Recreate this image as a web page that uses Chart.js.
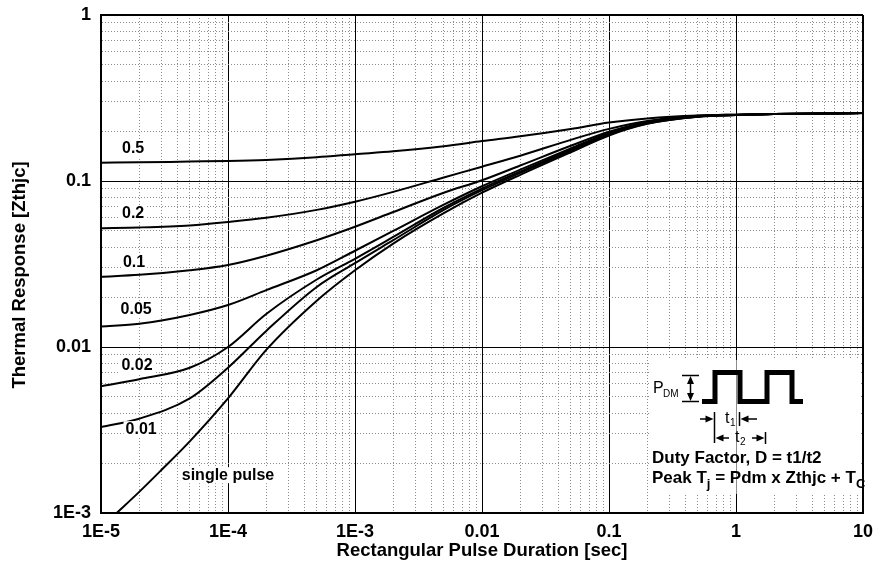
<!DOCTYPE html>
<html>
<head>
<meta charset="utf-8">
<script src="https://cdn.jsdelivr.net/npm/chart.js@4.4.1/dist/chart.umd.min.js"></script>
<style>
  html, body { margin: 0; padding: 0; background: #fff; }
</style>
</head>
<body>
<canvas id="zthChart" width="878" height="568"></canvas>
<script>
// pulse durations [sec] shared by the duty-factor curves
const pulseTimes = [1e-5, 2e-5, 5e-5, 1e-4, 2e-4, 5e-4, 1e-3, 2e-3, 5e-3, 0.01, 0.02, 0.05, 0.1, 0.2, 0.5, 1, 2, 5, 10];

// Zthjc, one array per duty factor
const duty50 = [0.129, 0.1295, 0.131, 0.132, 0.134, 0.139, 0.145, 0.151, 0.162, 0.174, 0.186, 0.206, 0.225, 0.238, 0.248, 0.251, 0.253, 0.255, 0.257];
const duty20 = [0.052, 0.0525, 0.054, 0.0566, 0.060, 0.067, 0.075, 0.086, 0.105, 0.122, 0.142, 0.177, 0.206, 0.230, 0.247, 0.251, 0.253, 0.255, 0.257];
const duty10 = [0.0265, 0.0272, 0.029, 0.0312, 0.0355, 0.044, 0.053, 0.065, 0.085, 0.101, 0.124, 0.163, 0.198, 0.227, 0.246, 0.250, 0.253, 0.255, 0.257];
const duty05 = [0.0133, 0.0138, 0.0156, 0.0179, 0.022, 0.029, 0.038, 0.050, 0.072, 0.093, 0.117, 0.157, 0.195, 0.225, 0.245, 0.250, 0.253, 0.255, 0.257];
const duty02 = [0.0058, 0.0064, 0.0075, 0.0100, 0.0158, 0.0255, 0.034, 0.046, 0.069, 0.090, 0.114, 0.154, 0.193, 0.224, 0.245, 0.250, 0.253, 0.255, 0.257];
const duty01 = [0.0033, 0.0037, 0.0049, 0.0075, 0.0125, 0.023, 0.032, 0.044, 0.067, 0.088, 0.112, 0.152, 0.190, 0.222, 0.244, 0.250, 0.253, 0.255, 0.257];

// single pulse starts where it leaves the bottom of the plot
const singleTimes = [1.33e-5, 2e-5, 3e-5, 5e-5, 1e-4, 2e-4, 5e-4, 1e-3, 2e-3, 5e-3, 0.01, 0.02, 0.05, 0.1, 0.2, 0.5, 1, 2, 5, 10];
const singlePulse = [0.001, 0.00134, 0.00182, 0.0027, 0.0049, 0.0096, 0.019, 0.029, 0.042, 0.064, 0.085, 0.109, 0.149, 0.188, 0.221, 0.244, 0.250, 0.253, 0.255, 0.257];

const xTickLabels = ['1E-5', '1E-4', '1E-3', '0.01', '0.1', '1', '10'];
const yTickLabels = ['1E-3', '0.01', '0.1', '1'];
const xTitle = 'Rectangular Pulse Duration [sec]';
const yTitle = 'Thermal Response [Zthjc]';

// curve names and where they sit (data units)
const curveNames = ['0.5', '0.2', '0.1', '0.05', '0.02', '0.01', 'single pulse'];
const nameTimes = [1.79e-5, 1.79e-5, 1.82e-5, 1.89e-5, 1.92e-5, 2.07e-5, 1e-4];
const nameLevels = [0.156, 0.0633, 0.0321, 0.0167, 0.0077, 0.0032, 0.00169];

const FONT = "'Liberation Sans', Arial, sans-serif";
Chart.defaults.font.family = FONT;
Chart.defaults.color = '#000';

function isDecade(v) {
    const l = Math.log10(v);
    return Math.abs(l - Math.round(l)) < 1e-6;
}

function logTicks(lo, hi) {
    const ticks = [];
    for (let e = lo; e < hi; e++) {
        for (let m = 1; m <= 9; m++) ticks.push({ value: m * Math.pow(10, e) });
    }
    ticks.push({ value: Math.pow(10, hi) });
    return ticks;
}

function curve(times, values) {
    return {
        data: times.map((t, i) => ({ x: t, y: values[i] })),
        borderColor: '#000',
        borderWidth: 2,
        pointRadius: 0,
        cubicInterpolationMode: 'monotone',
        fill: false
    };
}

function arrowHead(ctx, x, y, dir) {
    // s: 1 points right/down, -1 points left/up; h: horizontal
    ctx.beginPath();
    ctx.moveTo(x, y);
    if (dir.h) {
        ctx.lineTo(x - dir.s * 8, y - 3.5);
        ctx.lineTo(x - dir.s * 8, y + 3.5);
    } else {
        ctx.lineTo(x - 3.5, y - dir.s * 8);
        ctx.lineTo(x + 3.5, y - dir.s * 8);
    }
    ctx.closePath();
    ctx.fill();
}

function line(ctx, x1, y1, x2, y2) {
    ctx.beginPath();
    ctx.moveTo(x1, y1);
    ctx.lineTo(x2, y2);
    ctx.stroke();
}

const annotations = {
    id: 'annotations',
    afterDatasetsDraw(chart) {
        const { ctx, chartArea: ca, scales: { x, y } } = chart;
        ctx.save();

        // y axis title, sitting a little below the middle as in the original
        ctx.font = `bold 18.5px ${FONT}`;
        ctx.fillStyle = '#000';
        ctx.textAlign = 'center';
        ctx.textBaseline = 'middle';
        ctx.save();
        ctx.translate(19.5, (ca.top + ca.bottom) / 2 + 11);
        ctx.rotate(-Math.PI / 2);
        ctx.fillText(yTitle, 0, 0);
        ctx.restore();

        // curve names on white patches
        ctx.font = `bold 16px ${FONT}`;
        curveNames.forEach((t, i) => {
            const px = x.getPixelForValue(nameTimes[i]);
            const py = y.getPixelForValue(nameLevels[i]);
            const w = ctx.measureText(t).width;
            ctx.fillStyle = '#fff';
            ctx.fillRect(px - w / 2 - 2, py - 8, w + 4, 16);
            ctx.fillStyle = '#000';
            ctx.fillText(t, px, py);
        });

        // inset: pulse sketch and formulas
        const ox = ca.right - 211, oy = ca.bottom - 153;
        ctx.fillStyle = '#fff';
        ctx.fillRect(ox - 2, oy, ca.right - ox - 2, 134);
        const g1 = Math.round(x.getPixelForValue(1)) + 0.5;
        ctx.strokeStyle = '#8c8c8c';
        ctx.lineWidth = 1;
        line(ctx, g1, oy, g1, oy + 134);

        ctx.fillStyle = '#000';
        ctx.strokeStyle = '#000';
        ctx.textAlign = 'left';
        ctx.textBaseline = 'alphabetic';
        ctx.font = `16px ${FONT}`;
        ctx.fillText('P', ox + 1, oy + 33);
        ctx.font = `10px ${FONT}`;
        ctx.fillText('DM', ox + 11, oy + 37);

        // P_DM height marker
        ctx.lineWidth = 1.5;
        line(ctx, ox + 30, oy + 15.5, ox + 47, oy + 15.5);
        line(ctx, ox + 30, oy + 41.5, ox + 47, oy + 41.5);
        line(ctx, ox + 38.5, oy + 20, ox + 38.5, oy + 37);
        arrowHead(ctx, ox + 38.5, oy + 16, { h: false, s: -1 });
        arrowHead(ctx, ox + 38.5, oy + 41, { h: false, s: 1 });

        // pulse train
        ctx.lineWidth = 5;
        ctx.lineJoin = 'miter';
        ctx.beginPath();
        ctx.moveTo(ox + 50, oy + 41.5);
        ctx.lineTo(ox + 63, oy + 41.5);
        ctx.lineTo(ox + 63, oy + 12.5);
        ctx.lineTo(ox + 88, oy + 12.5);
        ctx.lineTo(ox + 88, oy + 41.5);
        ctx.lineTo(ox + 115, oy + 41.5);
        ctx.lineTo(ox + 115, oy + 12.5);
        ctx.lineTo(ox + 140, oy + 12.5);
        ctx.lineTo(ox + 140, oy + 41.5);
        ctx.lineTo(ox + 151, oy + 41.5);
        ctx.stroke();

        // t1 / t2 dimension arrows
        ctx.lineWidth = 1.5;
        line(ctx, ox + 62.5, oy + 52, ox + 62.5, oy + 83);
        line(ctx, ox + 87.5, oy + 52, ox + 87.5, oy + 66);
        line(ctx, ox + 113.5, oy + 72, ox + 113.5, oy + 84);
        line(ctx, ox + 48, oy + 59, ox + 56, oy + 59);
        arrowHead(ctx, ox + 61.5, oy + 59, { h: true, s: 1 });
        line(ctx, ox + 95, oy + 59, ox + 105, oy + 59);
        arrowHead(ctx, ox + 88.5, oy + 59, { h: true, s: -1 });
        line(ctx, ox + 70, oy + 78, ox + 77, oy + 78);
        arrowHead(ctx, ox + 63.5, oy + 78, { h: true, s: -1 });
        line(ctx, ox + 100, oy + 78, ox + 107, oy + 78);
        arrowHead(ctx, ox + 112.5, oy + 78, { h: true, s: 1 });

        ctx.font = `16px ${FONT}`;
        ctx.fillText('t', ox + 73, oy + 63);
        ctx.fillText('t', ox + 83, oy + 82);
        ctx.font = `10px ${FONT}`;
        ctx.fillText('1', ox + 78, oy + 66);
        ctx.fillText('2', ox + 88, oy + 85);

        // formulas
        ctx.font = `bold 17px ${FONT}`;
        ctx.fillText('Duty Factor, D = t1/t2', ox, oy + 103);
        let cx = ox;
        const seg = (txt, size, dy) => {
            ctx.font = `bold ${size}px ${FONT}`;
            ctx.fillText(txt, cx, oy + 123 + dy);
            cx += ctx.measureText(txt).width;
        };
        seg('Peak T', 17, 0);
        seg('j', 13, 5);
        seg(' = Pdm x Zthjc + T', 17, 0);
        seg('C', 13, 5);

        ctx.restore();
    }
};

const ctx = document.getElementById('zthChart').getContext('2d');
new Chart(ctx, {
    type: 'line',
    data: {
        datasets: [
            curve(pulseTimes, duty50),
            curve(pulseTimes, duty20),
            curve(pulseTimes, duty10),
            curve(pulseTimes, duty05),
            curve(pulseTimes, duty02),
            curve(pulseTimes, duty01),
            curve(singleTimes, singlePulse)
        ]
    },
    options: {
        responsive: false,
        animation: false,
        layout: { padding: { left: 0, top: 15, right: 15, bottom: 0 } },
        plugins: {
            legend: { display: false },
            tooltip: { enabled: false }
        },
        scales: {
            x: {
                type: 'logarithmic',
                min: 1e-5,
                max: 10,
                afterBuildTicks: scale => { scale.ticks = logTicks(-5, 1); },
                afterFit: scale => {
                    scale.height = 55;
                    scale.paddingLeft = 0;
                    scale.paddingRight = 0;
                },
                ticks: {
                    autoSkip: false,
                    maxRotation: 0,
                    padding: 8,
                    font: { size: 18, weight: 'bold' },
                    callback: v => isDecade(v) ? xTickLabels[Math.round(Math.log10(v)) + 5] : ''
                },
                grid: {
                    drawTicks: false,
                    color: c => (c.tick && isDecade(c.tick.value)) ? '#000' : '#8c8c8c',
                    lineWidth: c => (c.tick && c.tick.value > 9.99) ? 2 : 1
                },
                border: {
                    color: '#000',
                    width: 2,
                    dash: c => (c.tick && !isDecade(c.tick.value)) ? [1, 2] : []
                },
                title: {
                    display: true,
                    text: xTitle,
                    font: { size: 18.5, weight: 'bold' },
                    padding: { top: 0, bottom: 6 }
                }
            },
            y: {
                type: 'logarithmic',
                min: 1e-3,
                max: 1,
                afterBuildTicks: scale => { scale.ticks = logTicks(-3, 0); },
                afterFit: scale => {
                    scale.width = 101;
                    scale.paddingTop = 0;
                    scale.paddingBottom = 0;
                },
                ticks: {
                    autoSkip: false,
                    padding: 10,
                    font: { size: 18, weight: 'bold' },
                    callback: v => isDecade(v) ? yTickLabels[Math.round(Math.log10(v)) + 3] : ''
                },
                grid: {
                    drawTicks: false,
                    color: c => (c.tick && isDecade(c.tick.value)) ? '#000' : '#8c8c8c',
                    lineWidth: c => (c.tick && c.tick.value > 0.999) ? 2 : 1
                },
                border: {
                    color: '#000',
                    width: 2,
                    dash: c => (c.tick && !isDecade(c.tick.value)) ? [1, 2] : []
                }
            }
        }
    },
    plugins: [annotations]
});
</script>
</body>
</html>
